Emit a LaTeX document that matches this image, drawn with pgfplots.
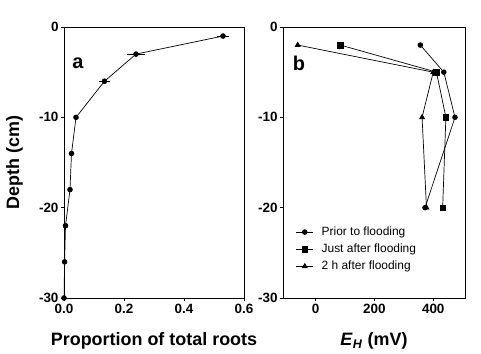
\documentclass[border=0pt]{standalone}
\usepackage{pgfplots}
\pgfplotsset{compat=1.18}
\usepackage{fontspec}
\setmainfont{Liberation Sans}
\begin{document}
\begin{tikzpicture}
\path[use as bounding box] (0bp,0bp) rectangle (481bp,354bp);
\pgfplotsset{
  myax/.style={
    scale only axis, anchor=south west,
    height=271bp,
    ymin=-30, ymax=0, ytick={-30,-20,-10,0},
    axis line style={line width=0.9pt},
    tick style={line width=0.8pt, black},
    major tick length=3bp,
    tick align=outside, xtick pos=bottom, ytick pos=left,
    tick label style={font=\fontsize{13.5}{15}\selectfont\bfseries},
    yticklabel style={xshift=1bp},
    /pgf/number format/assume math mode=true,
    every axis y label/.style={at={(axis description cs:-0.275,0.5)}, rotate=90, anchor=center, font=\fontsize{18}{20}\selectfont\bfseries},
    every axis x label/.style={at={(axis description cs:0.5,-0.16)}, anchor=center, font=\fontsize{18}{20}\selectfont\bfseries},
  },
  pl/.style={black, line width=0.7pt, mark options={solid, fill=black}},
}
\begin{axis}[myax, at={(64bp,56bp)}, width=180bp,
  xmin=0, xmax=0.6, xtick={0,0.2,0.4,0.6},
  xticklabel style={/pgf/number format/.cd, fixed, fixed zerofill, precision=1},
  xlabel={Proportion of total roots}, ylabel={Depth (cm)}]
\addplot[pl, mark=*, mark size=2.4bp, error bars/.cd, x dir=both, x explicit, error bar style={line width=0.7pt, black}, error mark=none]
coordinates {
(0.53,-1) +- (0.02,0)
(0.24,-3) +- (0.03,0)
(0.135,-6) +- (0.017,0)
(0.04,-10) +- (0.008,0)
(0.025,-14) +- (0.005,0)
(0.02,-18) +- (0.005,0)
(0.005,-22) +- (0.003,0)
(0.002,-26) +- (0.002,0)
(0.0,-30) +- (0.002,0)
};
\node[font=\fontsize{20}{22}\selectfont\bfseries, anchor=center] at (axis description cs:0.078,0.867) {a};
\end{axis}
\begin{axis}[myax, at={(283bp,56bp)}, width=182bp,
  xmin=-111, xmax=508, xtick={0,200,400},
  xlabel={\textit{E}\textsubscript{\textit{H}} (mV)}, 
  legend style={draw=none, fill=none, at={(axis description cs:0.07,0.27)}, anchor=north west,
    font=\fontsize{12}{13}\selectfont, row sep=3bp, inner sep=0pt,
    /tikz/every odd column/.append style={column sep=6bp}},
  legend cell align=left]
\addplot[pl, mark=*, mark size=2.4bp] coordinates {(356,-2) (436,-5) (474,-10) (372,-20)};
\addlegendentry{Prior to flooding}
\addplot[pl, mark=square*, mark size=2.8bp] coordinates {(84,-2) (411,-5) (443,-10) (432,-20)};
\addlegendentry{Just after flooding}
\addplot[pl, mark=triangle*, mark size=2.8bp] coordinates {(-61,-2) (400,-5) (362,-10) (377,-20)};
\addlegendentry{2 h after flooding}
\node[font=\fontsize{20}{22}\selectfont\bfseries, anchor=center] at (axis description cs:0.088,0.867) {b};
\end{axis}
\end{tikzpicture}
\end{document}
